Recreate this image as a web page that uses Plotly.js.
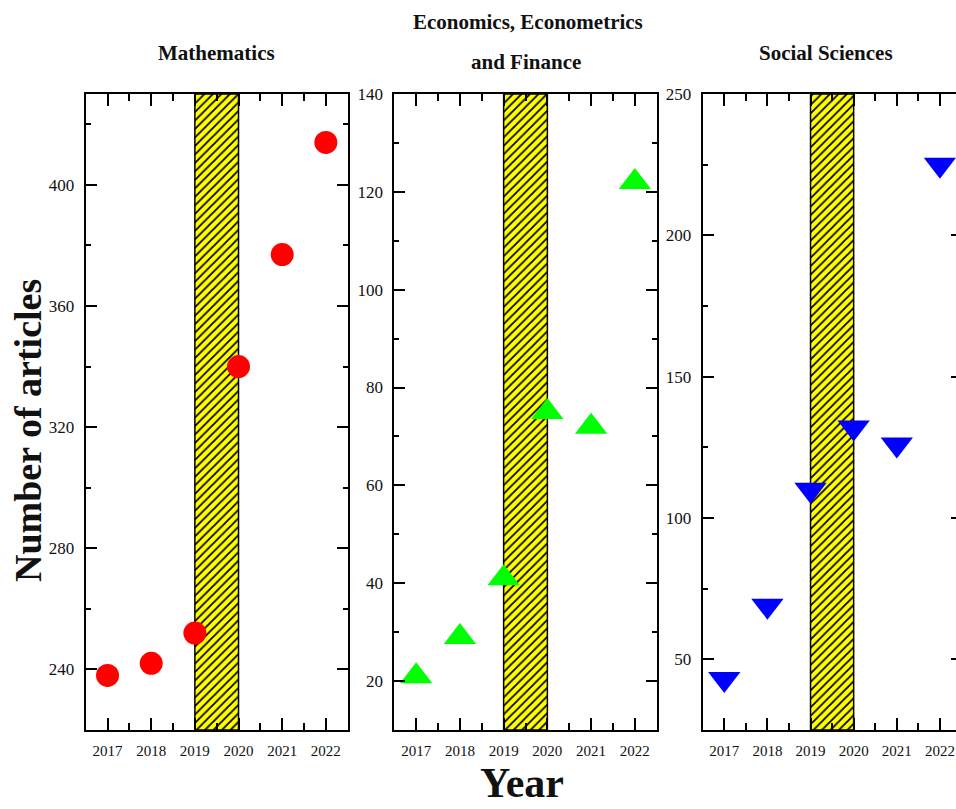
<!DOCTYPE html>
<html>
<head>
<meta charset="utf-8">
<script src="https://cdn.plot.ly/plotly-3.0.1.min.js"></script>
<style>
html, body { margin: 0; padding: 0; background: #fff; }
#wrap { width: 956px; height: 809px; overflow: hidden; position: relative; }
#chart { width: 975px; height: 809px; }
</style>
</head>
<body>
<div id="wrap"><div id="chart"></div></div>
<script>
// ---- data ----
const years = [2017, 2018, 2019, 2020, 2021, 2022];
const yearLabels = ['2017', '2018', '2019', '2020', '2021', '2022'];
const mathematics = [238, 242, 252, 340, 377, 414];
const economics = [21, 29, 41, 75, 72, 122];
const socialSciences = [43, 69, 110, 132, 126, 225];
const panelTitles = ['Mathematics', 'Economics, Econometrics', 'and Finance', 'Social Sciences'];
const bandStart = 2019;
const bandEnd = 2020;
const yRanges = [[220, 430], [10, 140], [25, 250]];
const yMajor = [40, 20, 50];
const yMinor = [20, 10, 25];

// ---- styling ----
const FONT = 'Liberation Serif, Times New Roman, serif';
const W = 975, H = 809;
const xDomPx = [[85.7, 347.7], [394.3, 656.7], [702.7, 961.5]];
const yDom = [(H - 730) / H, (H - 94) / H];

const series = [mathematics, economics, socialSciences];
const colors = ['#FF0000', '#00FF00', '#0000FF'];
const symbols = ['circle', 'triangle-up', 'triangle-down'];
const sizes = [23, 28, 28];

const traces = [];
const layout = {
  width: W, height: H,
  margin: {l: 0, r: 0, t: 0, b: 0},
  paper_bgcolor: '#fff', plot_bgcolor: '#fff',
  showlegend: false, hovermode: false,
  bargap: 0,
  annotations: []
};

for (let i = 0; i < 3; i++) {
  const sfx = i === 0 ? '' : String(i + 1);
  const xa = 'x' + sfx, ya = 'y' + sfx;
  // hatched band
  traces.push({
    type: 'bar', xaxis: xa, yaxis: ya,
    x: [(bandStart + bandEnd) / 2],
    width: [bandEnd - bandStart],
    base: [yRanges[i][0]],
    y: [yRanges[i][1] - yRanges[i][0]],
    marker: {
      color: '#FFFF00',
      line: {color: '#000', width: 1.5},
      pattern: {shape: '/', fgcolor: '#000', bgcolor: '#FFFF00', size: 6, solidity: 0.3}
    }
  });
  traces.push({
    type: 'scatter', mode: 'markers', xaxis: xa, yaxis: ya,
    x: years, y: series[i], cliponaxis: false,
    marker: {color: colors[i], symbol: symbols[i], size: sizes[i], line: {width: 0}}
  });
  layout['xaxis' + sfx] = {
    domain: [xDomPx[i][0] / W, xDomPx[i][1] / W],
    anchor: ya,
    range: [2016.5, 2022.5],
    tickmode: 'array', tickvals: years, ticktext: yearLabels,
    ticks: 'inside', ticklen: 12, tickwidth: 2, tickcolor: '#000',
    minor: {dtick: 0.5, tick0: 2016.5, ticks: 'inside', ticklen: 7, tickwidth: 2, tickcolor: '#000'},
    showline: true, linecolor: '#000', linewidth: 2, mirror: 'allticks',
    showgrid: false, zeroline: false,
    tickfont: {family: FONT, size: 15, color: '#111'},
    ticklabelstandoff: 6,
    fixedrange: true
  };
  layout['yaxis' + sfx] = {
    domain: yDom,
    anchor: xa,
    range: yRanges[i],
    tick0: 0, dtick: yMajor[i],
    ticks: 'inside', ticklen: 11, tickwidth: 2, tickcolor: '#000',
    minor: {dtick: yMinor[i], tick0: 0, ticks: 'inside', ticklen: 5, tickwidth: 2, tickcolor: '#000'},
    showline: true, linecolor: '#000', linewidth: 2, mirror: 'allticks',
    showgrid: false, zeroline: false,
    tickfont: {family: FONT, size: 17, color: '#111'},
    ticklabelstandoff: 6,
    fixedrange: true
  };
}

function ann(text, xPx, yPx, size, extra) {
  return Object.assign({
    text: text, xref: 'paper', yref: 'paper',
    x: xPx / W, y: 1 - yPx / H, xanchor: 'center', yanchor: 'middle',
    showarrow: false,
    font: {family: FONT, size: size, color: '#111', weight: 'bold'}
  }, extra || {});
}

layout.annotations.push(ann('<b>' + panelTitles[0] + '</b>', 216, 53, 21));
layout.annotations.push(ann('<b>' + panelTitles[1] + '</b>', 528, 22, 21));
layout.annotations.push(ann('<b>' + panelTitles[2] + '</b>', 526, 62, 21));
layout.annotations.push(ann('<b>' + panelTitles[3] + '</b>', 826, 53, 21));
layout.annotations.push(ann('<b>Number of articles</b>', 28, 431, 38, {textangle: -90}));
layout.annotations.push(ann('<b>Year</b>', 522, 783, 42));

Plotly.newPlot('chart', traces, layout, {staticPlot: true, displayModeBar: false});
</script>
</body>
</html>
